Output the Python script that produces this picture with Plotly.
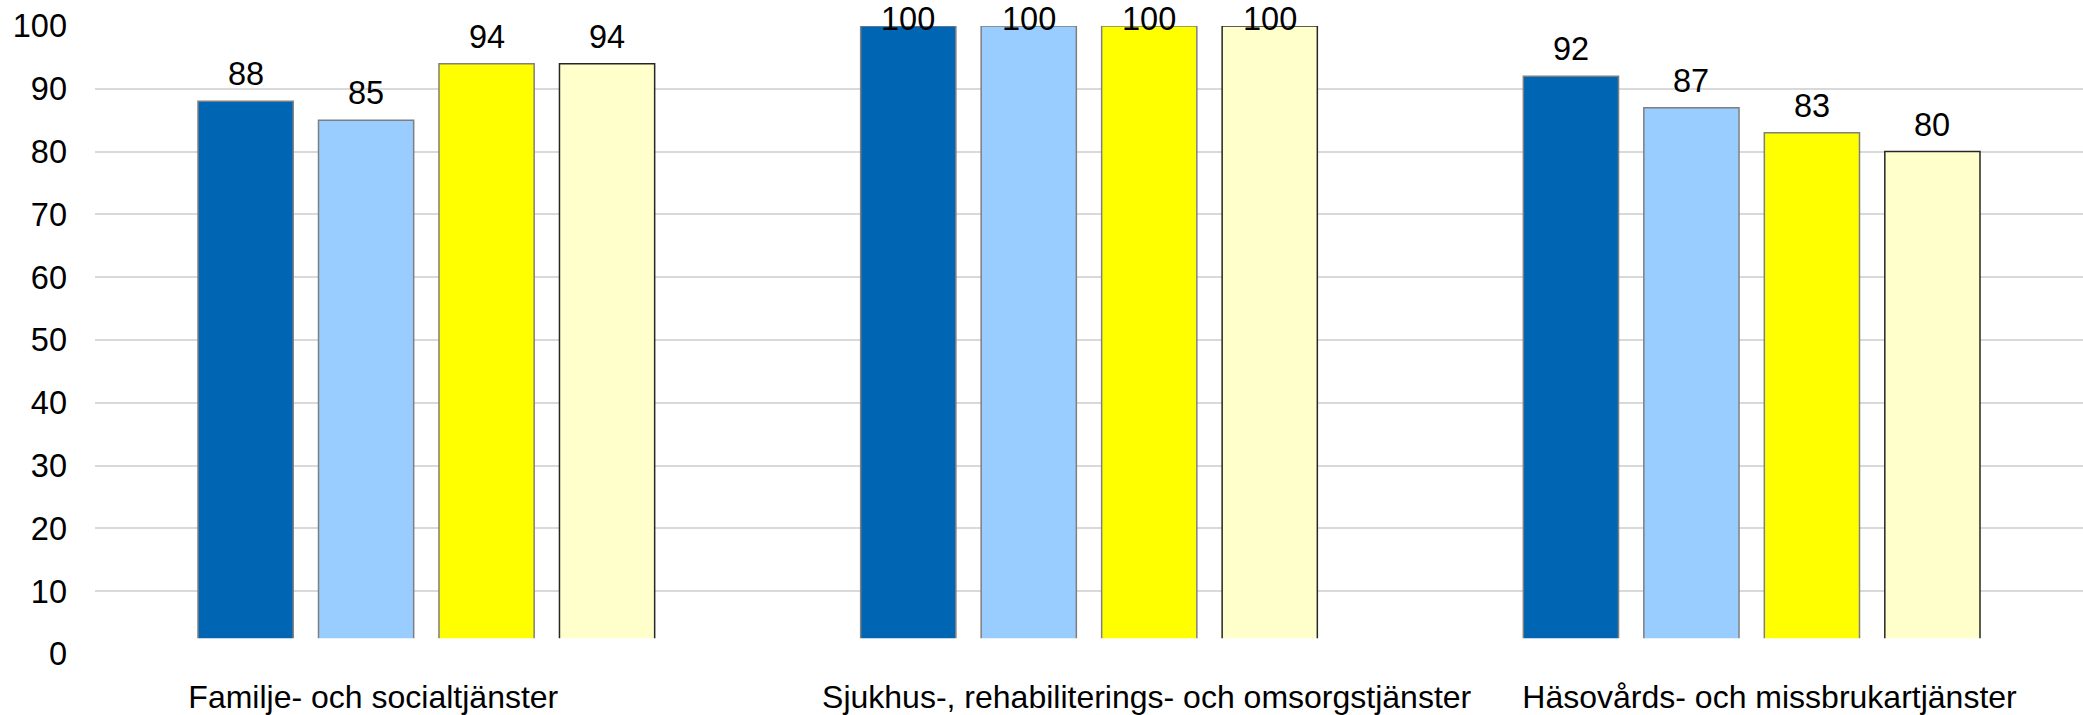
import plotly.graph_objects as go

# categories and series
categories = ["Familje- och socialtjänster",
              "Sjukhus-, rehabiliterings- och omsorgstjänster",
              "Häsovårds- och missbrukartjänster"]
serie_1 = [88, 100, 92]
serie_2 = [85, 100, 87]
serie_3 = [94, 100, 83]
serie_4 = [94, 100, 80]
series = [serie_1, serie_2, serie_3, serie_4]

y_ticks = [0, 10, 20, 30, 40, 50, 60, 70, 80, 90, 100]

# styling
colors = ["#0066B3", "#99CCFF", "#FFFF00", "#FFFFCC"]
outlines = ["#7F7F7F", "#7F7F7F", "#7F7F7F", "#262626"]
FONT = "Liberation Sans, Arial, sans-serif"
FS = 32.5
W, H = 2083, 715
M_L, M_R, M_T, M_B = 95, 0, 26, 58
BARGAP = 0.2727
GROUPGAP = 0.21
Y_MAX = 100
# label positions of category text (Excel offsets them slightly)
label_x = [-0.08, 1.087, 2.027]

group_x = list(range(len(categories)))
n = len(series)
slot = (1 - BARGAP) / n
px_per_unit = (H - M_T - M_B) / Y_MAX

fig = go.Figure()

for k, vals in enumerate(series):
    fig.add_trace(go.Bar(
        x=group_x,
        y=vals,
        marker=dict(color=colors[k], line=dict(color=outlines[k], width=1.5)),
        showlegend=False,
        hoverinfo="skip",
    ))

# data labels above each bar, kept inside the chart area at the top
annotations = []
LABEL_SHIFT = 7
LABEL_BOX_H = 39
for k, vals in enumerate(series):
    for i, v in enumerate(vals):
        shift = min(LABEL_SHIFT, (Y_MAX - v) * px_per_unit + M_T - LABEL_BOX_H)
        annotations.append(dict(
            x=group_x[i] + (k - (n - 1) / 2) * slot,
            y=v,
            xref="x", yref="y",
            text=str(v),
            showarrow=False,
            yanchor="bottom",
            yshift=shift,
            font=dict(family=FONT, size=FS, color="black"),
        ))

fig.update_layout(
    width=W, height=H,
    margin=dict(l=M_L, r=M_R, t=M_T, b=M_B),
    plot_bgcolor="white",
    paper_bgcolor="white",
    barmode="group",
    bargap=BARGAP,
    bargroupgap=GROUPGAP,
    annotations=annotations,
    font=dict(family=FONT, size=FS, color="black"),
    # bars are cut just above the base line in the original
    shapes=[dict(type="rect", xref="paper", yref="y", x0=0, x1=1, y0=-1, y1=2.5,
                 fillcolor="white", line=dict(width=0), layer="above")],
)

fig.update_xaxes(
    range=[-0.5, 2.5],
    tickmode="array",
    tickvals=label_x,
    ticktext=categories,
    showgrid=False,
    zeroline=False,
    showline=False,
    ticks="",
    ticklabelstandoff=21,
    tickfont=dict(family=FONT, size=32, color="black"),
)

fig.update_yaxes(
    range=[0, Y_MAX],
    tickvals=y_ticks,
    showgrid=True,
    gridcolor="#D9D9D9",
    gridwidth=2,
    zeroline=False,
    showline=False,
    ticks="",
    ticklabelstandoff=27,
    tickfont=dict(family=FONT, size=FS, color="black"),
)

# page has a default body margin; drop it so the chart sits at the corner
fig.write_html("out.html",
               config={"displayModeBar": False},
               post_script="document.body.style.margin='0';document.body.style.overflow='hidden';")
